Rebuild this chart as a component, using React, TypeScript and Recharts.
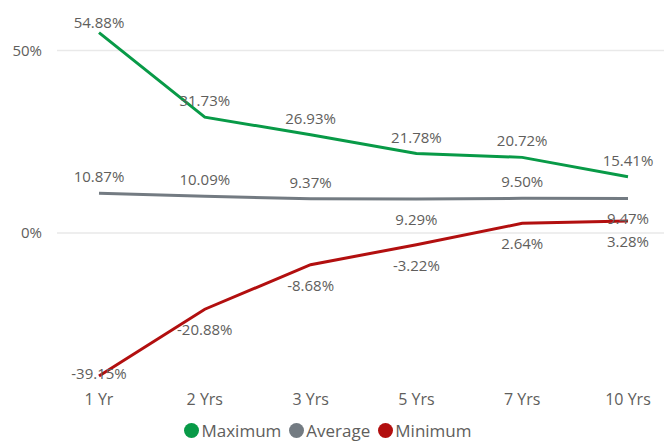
import { LineChart, Line, XAxis, YAxis, ReferenceLine, Legend, LabelList } from "recharts";

const periods = ["1 Yr", "2 Yrs", "3 Yrs", "5 Yrs", "7 Yrs", "10 Yrs"];
const maximum = [54.88, 31.73, 26.93, 21.78, 20.72, 15.41];
const average = [10.87, 10.09, 9.37, 9.29, 9.5, 9.47];
const minimum = [-39.15, -20.88, -8.68, -3.22, 2.64, 3.28];
const yTicks = [0, 50];

// which side of the point each data label sits on
const avgSide = ["up", "up", "up", "down", "up", "down"];

const data = periods.map((p, i) => ({
  period: p,
  max: maximum[i],
  avg: average[i],
  min: minimum[i],
}));

const FONT = "'Open Sans', sans-serif";
const TEXT = "#605E5C";

const series = [
  { key: "max", name: "Maximum", color: "#089A47" },
  { key: "avg", name: "Average", color: "#737B82" },
  { key: "min", name: "Minimum", color: "#B20F0F" },
];

const fmt = (v: number) => `${v.toFixed(2)}%`;

function makeLabel(side: (i: number) => string) {
  return (props: any) => {
    const { x, y, value, index } = props;
    const s = side(index);
    let cy = s === "up" ? y - 17 : y + 20;
    if (s === "center") cy = y - 3;
    if (cy < 22) cy = 22;
    return (
      <text
        x={x}
        y={cy}
        textAnchor="middle"
        dominantBaseline="central"
        fill={TEXT}
        fontSize={15}
        fontFamily={FONT}
      >
        {fmt(value)}
      </text>
    );
  };
}

const renderLegend = () => (
  <div
    style={{
      display: "flex",
      justifyContent: "center",
      alignItems: "center",
      fontFamily: FONT,
      fontSize: 17,
      color: TEXT,
    }}
  >
    {series.map((s) => (
      <span key={s.key} style={{ display: "flex", alignItems: "center", marginRight: 8 }}>
        <span
          style={{
            width: 15,
            height: 15,
            borderRadius: "50%",
            background: s.color,
            display: "inline-block",
            marginRight: 2,
          }}
        />
        {s.name}
      </span>
    ))}
  </div>
);

export default function App() {
  return (
    <div style={{ position: "absolute", left: 0, top: 0, background: "#fff" }}>
      <LineChart
        width={664}
        height={443}
        data={data}
        margin={{ top: 14, right: 0, bottom: 0, left: 0 }}
      >
        {yTicks.map((t) => (
          <ReferenceLine key={t} y={t} stroke="#E9E9E9" strokeWidth={1.5} />
        ))}
        <XAxis
          dataKey="period"
          axisLine={false}
          tickLine={false}
          padding={{ left: 42, right: 36 }}
          height={40}
          tickMargin={9}
          tick={{ fill: TEXT, fontSize: 16, fontFamily: FONT }}
        />
        <YAxis
          domain={[-40, 60]}
          ticks={yTicks}
          width={57}
          axisLine={false}
          tickLine={false}
          tickMargin={9}
          tickFormatter={(v) => `${v}%`}
          tick={{ fill: TEXT, fontSize: 15, fontFamily: FONT }}
        />
        <Legend verticalAlign="bottom" height={24} content={renderLegend} />
        <Line
          dataKey="max"
          name="Maximum"
          stroke={series[0].color}
          strokeWidth={3}
          dot={false}
          isAnimationActive={false}
        >
          <LabelList dataKey="max" content={makeLabel(() => "up")} />
        </Line>
        <Line
          dataKey="avg"
          name="Average"
          stroke={series[1].color}
          strokeWidth={3}
          dot={false}
          isAnimationActive={false}
        >
          <LabelList dataKey="avg" content={makeLabel((i) => avgSide[i])} />
        </Line>
        <Line
          dataKey="min"
          name="Minimum"
          stroke={series[2].color}
          strokeWidth={3}
          dot={false}
          isAnimationActive={false}
        >
          <LabelList dataKey="min" content={makeLabel((i) => (i === 0 ? "center" : "down"))} />
        </Line>
      </LineChart>
    </div>
  );
}
